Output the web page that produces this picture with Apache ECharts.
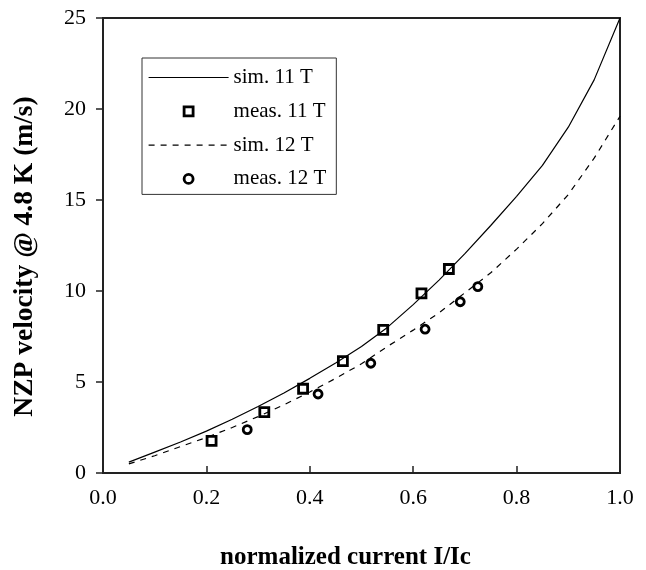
<!DOCTYPE html>
<html>
<head>
<meta charset="utf-8">
<script src="https://cdn.jsdelivr.net/npm/echarts@6/dist/echarts.min.js"></script>
<style>
  html, body { margin: 0; padding: 0; background: #fff; }
  #chart { width: 646px; height: 570px; }
</style>
</head>
<body>
<div id="chart"></div>
<script>
// simulated curves (normalized current vs NZP velocity)
var simX = [0.05, 0.1, 0.15, 0.2, 0.25, 0.3, 0.35, 0.4, 0.45, 0.5, 0.55, 0.6, 0.65, 0.7, 0.75, 0.8, 0.85, 0.9, 0.95, 1.0]
var sim11 = [0.6, 1.15, 1.7, 2.3, 2.95, 3.65, 4.4, 5.2, 6.05, 6.95, 8.0, 9.25, 10.6, 12.05, 13.6, 15.2, 16.9, 19.0, 21.6, 25.0]
var sim12 = [0.5, 0.95, 1.45, 1.95, 2.5, 3.1, 3.75, 4.45, 5.2, 6.0, 6.95, 7.85, 8.8, 9.9, 11.0, 12.3, 13.7, 15.3, 17.3, 19.6]

// measurements
var meas11X = [0.21, 0.312, 0.387, 0.464, 0.542, 0.616, 0.669]
var meas11Y = [1.77, 3.35, 4.63, 6.15, 7.86, 9.87, 11.21]
var meas12X = [0.279, 0.416, 0.518, 0.623, 0.691, 0.725]
var meas12Y = [2.38, 4.34, 6.03, 7.9, 9.41, 10.24]

function pairs (xs, ys) {
  return xs.map(function (x, i) { return [x, ys[i]] })
}

var font = "'Liberation Serif', 'Times New Roman', serif"
var squareIcon = 'path://M0,0L10,0L10,10L0,10Z'
var markerStyle = { color: '#fff', borderColor: '#000', borderWidth: 2.8, opacity: 1 }

var chart = echarts.init(document.getElementById('chart'))
var option = {
  animation: false,
  textStyle: { fontFamily: font, color: '#000' },
  grid: {
    left: 103,
    right: 26,
    top: 18,
    bottom: 97,
    outerBoundsMode: 'none',
    show: true,
    borderColor: '#222',
    borderWidth: 2
  },
  legend: {
    orient: 'vertical',
    left: 142,
    top: 58,
    itemWidth: 80,
    itemHeight: 9,
    itemGap: 12.8,
    padding: [9, 10, 5, 6],
    borderColor: '#333',
    borderWidth: 1,
    textStyle: { fontFamily: font, fontSize: 21, color: '#000' },
    data: [
      { name: 'sim. 11 T', itemStyle: { opacity: 0 }, lineStyle: { width: 1.2 } },
      { name: 'meas. 11 T', icon: squareIcon, itemStyle: { borderWidth: 2.8 } },
      { name: 'sim. 12 T', itemStyle: { opacity: 0 }, lineStyle: { width: 1.2 } },
      { name: 'meas. 12 T', icon: 'circle', itemStyle: { borderWidth: 2.8 } }
    ]
  },
  xAxis: {
    type: 'value',
    min: 0,
    max: 1,
    interval: 0.2,
    name: 'normalized current I/Ic',
    nameLocation: 'middle',
    nameGap: 72,
    nameTextStyle: { fontFamily: font, fontSize: 25, fontWeight: 'bold', color: '#000', padding: [0, 32, 0, 0] },
    axisLine: { show: false },
    axisTick: { show: true, inside: true, length: 7, lineStyle: { color: '#222', width: 1.5 } },
    axisLabel: {
      margin: 14,
      fontFamily: font,
      fontSize: 22,
      color: '#000',
      formatter: function (v) { return v.toFixed(1) }
    },
    splitLine: { show: false }
  },
  yAxis: {
    type: 'value',
    min: 0,
    max: 25,
    interval: 5,
    name: 'NZP velocity @ 4.8 K (m/s)',
    nameLocation: 'middle',
    nameGap: 64,
    nameTextStyle: { fontFamily: font, fontSize: 27.5, fontWeight: 'bold', color: '#000', padding: [0, 22, 0, 0] },
    axisLine: { show: false },
    axisTick: { show: true, inside: false, length: 7, lineStyle: { color: '#222', width: 1.5 } },
    axisLabel: { margin: 17, fontFamily: font, fontSize: 22, color: '#000' },
    splitLine: { show: false }
  },
  series: [
    {
      name: 'sim. 11 T',
      type: 'line',
      data: pairs(simX, sim11),
      symbol: 'none',
      lineStyle: { color: '#000', width: 1.2 },
      itemStyle: { color: '#000' }
    },
    {
      name: 'meas. 11 T',
      type: 'scatter',
      data: pairs(meas11X, meas11Y),
      symbol: 'rect',
      symbolSize: 9,
      itemStyle: markerStyle
    },
    {
      name: 'sim. 12 T',
      type: 'line',
      data: pairs(simX, sim12),
      symbol: 'none',
      lineStyle: { color: '#000', width: 1.2, type: [6, 6] },
      itemStyle: { color: '#000' }
    },
    {
      name: 'meas. 12 T',
      type: 'scatter',
      data: pairs(meas12X, meas12Y),
      symbol: 'circle',
      symbolSize: 8,
      itemStyle: markerStyle
    }
  ]
}
chart.setOption(option)
</script>
</body>
</html>
